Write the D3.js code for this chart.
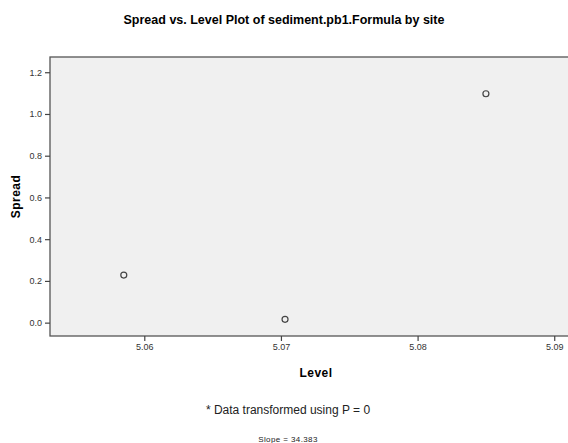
<!DOCTYPE html>
<html>
<head>
<meta charset="utf-8">
<script src="https://cdn.jsdelivr.net/npm/d3@7"></script>
<style>
    body { margin: 0; background: #fff; }
    svg text { font-family: "Liberation Sans", Arial, sans-serif; }
</style>
</head>
<body>
<svg id="chart" width="568" height="443"></svg>
<script>
// values
var sites = ["site 1", "site 2", "site 3"]
var levels = [5.0585, 5.0703, 5.0850]
var spreads = [0.228, 0.016, 1.097]
var xTicks = [5.06, 5.07, 5.08, 5.09]
var yTicks = [0.0, 0.2, 0.4, 0.6, 0.8, 1.0, 1.2]
var slope = "34.383"

var svg = d3.select("svg#chart")

var plotLeft = 50, plotTop = 57, plotRight = 572, plotBottom = 336

var x = d3.scaleLinear().domain([5.0531, 5.0913]).range([plotLeft, plotRight])
var y = d3.scaleLinear().domain([-0.064, 1.273]).range([plotBottom, plotTop])

svg.append("text")
    .attr("x", 284).attr("y", 24)
    .attr("text-anchor", "middle")
    .style("font-size", "12.5px").style("font-weight", "bold")
    .text("Spread vs. Level Plot of sediment.pb1.Formula by site")

// plot area
svg.append("rect")
    .attr("x", plotLeft).attr("y", plotTop)
    .attr("width", plotRight - plotLeft).attr("height", plotBottom - plotTop)
    .attr("fill", "#f0f0f0")
    .attr("stroke", "#555").attr("stroke-width", 1.3)

var xAxis = svg.append("g")
    .attr("transform", "translate(0," + plotBottom + ")")
    .call(d3.axisBottom(x).tickValues(xTicks).tickFormat(d3.format(".2f")).tickSize(5).tickSizeOuter(0))
xAxis.select(".domain").remove()

var yAxis = svg.append("g")
    .attr("transform", "translate(" + plotLeft + ",0)")
    .call(d3.axisLeft(y).tickValues(yTicks).tickFormat(d3.format(".1f")).tickSize(5).tickSizeOuter(0))
yAxis.select(".domain").remove()

svg.selectAll(".tick line").attr("stroke", "#444").attr("stroke-width", 1.2)
svg.selectAll(".tick text")
    .attr("fill", "#333")
    .style("font-size", "9px")
    .style("font-family", "'Liberation Sans', Arial, sans-serif")

svg.append("text")
    .attr("x", 316).attr("y", 377)
    .attr("text-anchor", "middle")
    .style("font-size", "12px").style("font-weight", "bold").style("letter-spacing", "0.5px")
    .text("Level")

svg.append("text")
    .attr("transform", "translate(20," + ((plotTop + plotBottom) / 2) + ") rotate(-90)")
    .attr("text-anchor", "middle")
    .style("font-size", "12px").style("font-weight", "bold").style("letter-spacing", "0.5px")
    .text("Spread")

svg.append("g").selectAll("circle")
    .data(sites)
    .enter().append("circle")
    .attr("cx", function (d, i) { return x(levels[i]) })
    .attr("cy", function (d, i) { return y(spreads[i]) })
    .attr("r", 3)
    .attr("fill", "none")
    .attr("stroke", "#444")
    .attr("stroke-width", 1.2)

svg.append("text")
    .attr("x", 288).attr("y", 414)
    .attr("text-anchor", "middle")
    .style("font-size", "12px")
    .attr("fill", "#222")
    .text("* Data transformed using P = 0")

svg.append("text")
    .attr("x", 288).attr("y", 442)
    .attr("text-anchor", "middle")
    .style("font-size", "8px").style("letter-spacing", "0.4px")
    .attr("fill", "#222")
    .text("Slope = " + slope)
</script>
</body>
</html>
